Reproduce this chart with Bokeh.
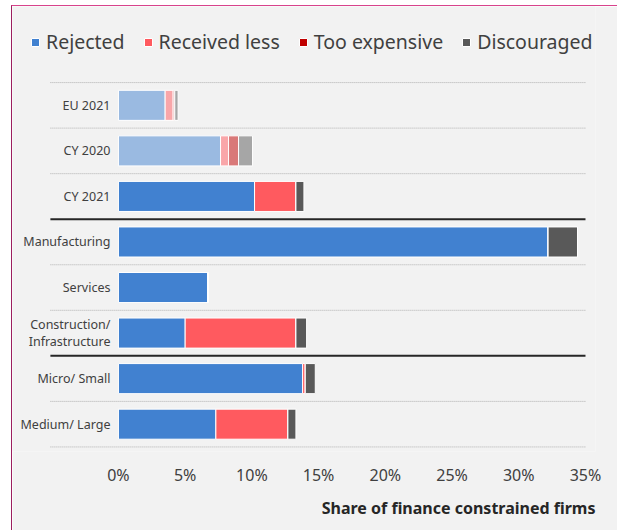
from bokeh.plotting import figure
from bokeh.models import (ColumnDataSource, Range1d, FixedTicker,
                          PrintfTickFormatter, Legend, LegendItem, Title)
from bokeh.core.properties import value
from bokeh.embed import file_html
from bokeh.resources import INLINE

# ---- data (percent of firms) ----
categories = ["EU 2021", "CY 2020", "CY 2021", "Manufacturing", "Services",
              "Construction/\nInfrastructure", "Micro/ Small", "Medium/ Large"]
rejected = [3.5, 7.65, 10.2, 32.2, 6.7, 5.0, 13.8, 7.3]
received_less = [0.6, 0.6, 3.1, 0.0, 0.0, 8.3, 0.2, 5.4]
too_expensive = [0.12, 0.75, 0.0, 0.0, 0.0, 0.0, 0.0, 0.0]
discouraged = [0.25, 1.05, 0.6, 2.2, 0.0, 0.8, 0.75, 0.6]
opacity = [0.5, 0.5, 1, 1, 1, 1, 1, 1]
group_break_after = ["CY 2021", "Construction/\nInfrastructure"]
series = ["Rejected", "Received less", "Too expensive", "Discouraged"]
colors = ["#4181d0", "#ff5a5f", "#c00000", "#595959"]
xticks = [0, 5, 10, 15, 20, 25, 30, 35]
x_title = "Share of finance constrained firms"

n = len(categories)
ypos = [n - 1 - i for i in range(n)]  # first category at top

source = ColumnDataSource(dict(cat=categories, y=ypos,
                               Rejected=rejected,
                               **{"Received less": received_less,
                                  "Too expensive": too_expensive,
                                  "Discouraged": discouraged},
                               alpha=opacity))

W, H = 606, 525
p = figure(width=W, height=H, output_backend="svg", toolbar_location=None,
           y_range=Range1d(-0.6, n - 0.5 + 1.67),
           x_range=Range1d(-7.94, 35.75),
           min_border_left=0, min_border_right=23, min_border_top=0,
           min_border_bottom=80)
p.background_fill_color = "#f2f2f2"
p.border_fill_color = "#f2f2f2"
p.outline_line_color = None
p.styles = {"margin-left": "11px", "margin-top": "5px",
            "border-left": "1px solid #9c1f5f", "border-top": "1px solid #d8438c"}

# separators between rows
dotted_y = [n - 0.5]
solid_y = []
for c, y in zip(categories, ypos):
    (solid_y if c in group_break_after else dotted_y).append(y - 0.5)
p.segment(x0=[-5.1] * len(dotted_y), x1=[35.0] * len(dotted_y), y0=dotted_y, y1=dotted_y,
          line_color="#b0b0b0", line_width=1, line_dash="1 1")
p.segment(x0=[-5.1] * len(solid_y), x1=[35.0] * len(solid_y), y0=solid_y, y1=solid_y,
          line_color="#262626", line_width=2)

renderers = p.hbar_stack(series, y="y", height=0.66, color=colors, source=source,
                         fill_alpha="alpha", line_color="white", line_width=1)

# category labels
p.text(x=-0.6, y="y", text="cat", source=source, text_align="right",
       text_baseline="middle", text_font=value("Noto Sans"), text_font_size="12.5px",
       text_color="#404040", text_line_height=1.0)

legend = Legend(items=[LegendItem(label=s, renderers=[r], index=2)
                       for s, r in zip(series, renderers)],
                orientation="horizontal", location=(18, 396),
                label_text_font="Noto Sans", label_text_font_size="19.5px",
                label_text_color="#404040", glyph_width=10, glyph_height=10,
                label_standoff=6, spacing=18, padding=0, margin=0,
                background_fill_alpha=0, border_line_color=None)
p.add_layout(legend)

p.ygrid.visible = False
p.xgrid.visible = False
p.yaxis.visible = False
ax = p.xaxis[0]
ax.ticker = FixedTicker(ticks=xticks)
ax.formatter = PrintfTickFormatter(format="%d%%")
ax.axis_line_color = None
ax.major_tick_line_color = None
ax.minor_tick_line_color = None
ax.major_tick_out = 0
ax.major_tick_in = 0
ax.minor_tick_out = 0
ax.minor_tick_in = 0
ax.major_label_standoff = 12
ax.major_label_text_font = "Noto Sans"
ax.major_label_text_font_size = "16px"
ax.major_label_text_color = "#404040"

# axis title, right-aligned under the plot area
p.add_layout(Title(text=x_title, align="right", text_font="Noto Sans",
                   text_font_size="16px", text_font_style="bold",
                   text_color="#262626", standoff=12), "below")

open("out.html", "w").write(file_html(p, INLINE))
